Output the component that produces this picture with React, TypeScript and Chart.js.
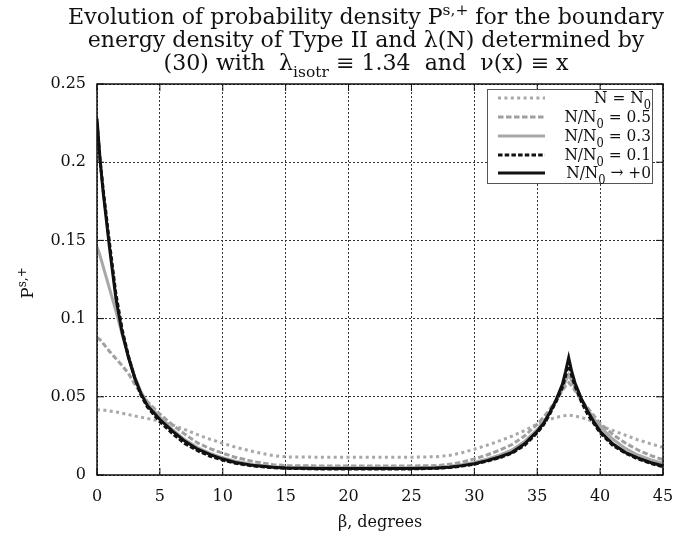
import React, { useEffect, useRef } from "react";
import { Chart, registerables } from "chart.js";
Chart.register(...registerables);

// ---------- data ----------
const betaDeg = [0, 0.25, 0.5, 1, 1.5, 2, 2.5, 3, 3.5, 4, 5, 6, 7, 8, 9, 10, 11, 12.5, 14, 15, 17.5, 20, 22.5, 25, 27, 28, 29, 30, 31, 32, 33, 34, 35, 35.5, 36, 36.5, 37, 37.25, 37.5, 37.75, 38, 38.5, 39, 39.5, 40, 41, 42, 43, 44, 45];

const pN0 = [0.0417, 0.0416, 0.0415, 0.041, 0.0403, 0.0395, 0.0386, 0.0377, 0.0369, 0.0361, 0.0345, 0.032, 0.029, 0.0258, 0.0228, 0.0203, 0.0178, 0.0148, 0.0124, 0.0116, 0.0114, 0.0114, 0.0114, 0.0114, 0.0117, 0.0125, 0.0142, 0.0165, 0.019, 0.0218, 0.0248, 0.0285, 0.0325, 0.034, 0.0356, 0.0368, 0.0377, 0.038, 0.0382, 0.038, 0.0377, 0.0368, 0.0356, 0.0338, 0.0315, 0.0285, 0.0255, 0.0225, 0.02, 0.0177];

const pHalf = [0.088, 0.0865, 0.084, 0.079, 0.0745, 0.07, 0.065, 0.058, 0.052, 0.047, 0.039, 0.032, 0.026, 0.0205, 0.0168, 0.0139, 0.0113, 0.0085, 0.0066, 0.006, 0.0058, 0.0058, 0.0058, 0.0058, 0.006, 0.0068, 0.0082, 0.0103, 0.0128, 0.0158, 0.0195, 0.025, 0.0325, 0.037, 0.042, 0.048, 0.054, 0.057, 0.059, 0.057, 0.054, 0.048, 0.043, 0.038, 0.033, 0.026, 0.0205, 0.016, 0.0125, 0.0098];

const pThird = [0.146, 0.14, 0.133, 0.119, 0.105, 0.09, 0.076, 0.063, 0.053, 0.046, 0.037, 0.029, 0.0225, 0.0175, 0.0138, 0.011, 0.0088, 0.0066, 0.0053, 0.0049, 0.0046, 0.0046, 0.0046, 0.0046, 0.005, 0.0056, 0.0066, 0.008, 0.0101, 0.0127, 0.016, 0.0215, 0.029, 0.034, 0.04, 0.047, 0.055, 0.06, 0.064, 0.06, 0.056, 0.048, 0.042, 0.036, 0.031, 0.023, 0.017, 0.0128, 0.0098, 0.0075];

const pTenth = [0.225, 0.201, 0.182, 0.148, 0.116, 0.093, 0.076, 0.062, 0.051, 0.0435, 0.034, 0.0265, 0.02, 0.0155, 0.012, 0.0095, 0.0075, 0.0057, 0.0047, 0.0043, 0.0039, 0.0039, 0.0039, 0.0039, 0.0043, 0.0048, 0.0057, 0.0069, 0.0088, 0.011, 0.014, 0.019, 0.027, 0.032, 0.039, 0.047, 0.056, 0.063, 0.072, 0.063, 0.057, 0.047, 0.039, 0.033, 0.027, 0.019, 0.014, 0.0103, 0.0075, 0.0053];

const pZero = [0.228, 0.201, 0.18, 0.145, 0.113, 0.091, 0.075, 0.062, 0.052, 0.0445, 0.0355, 0.028, 0.0215, 0.0165, 0.013, 0.0102, 0.008, 0.006, 0.0049, 0.0045, 0.0041, 0.0041, 0.0041, 0.0041, 0.0045, 0.005, 0.006, 0.0072, 0.0092, 0.0115, 0.0145, 0.02, 0.028, 0.033, 0.04, 0.048, 0.058, 0.066, 0.075, 0.066, 0.059, 0.049, 0.041, 0.034, 0.028, 0.02, 0.0145, 0.011, 0.008, 0.0058];

const xTickValues = [0, 5, 10, 15, 20, 25, 30, 35, 40, 45];
const xTickLabels = ["0", "5", "10", "15", "20", "25", "30", "35", "40", "45"];
const yTickValues = [0, 0.05, 0.1, 0.15, 0.2, 0.25];
const yTickLabels = ["0", "0.05", "0.1", "0.15", "0.2", "0.25"];

type Seg = [string, "n" | "sup" | "sub"];
const titleLines: Seg[][] = [
  [["Evolution of probability density P", "n"], ["s,+", "sup"], [" for the boundary", "n"]],
  [["energy density of Type II and λ(N) determined by", "n"]],
  [["(30) with  λ", "n"], ["isotr", "sub"], [" ≡ 1.34  and  ν(x) ≡ x", "n"]],
];
const legendLabels: Seg[][] = [
  [["N = N", "n"], ["0", "sub"]],
  [["N/N", "n"], ["0", "sub"], [" = 0.5", "n"]],
  [["N/N", "n"], ["0", "sub"], [" = 0.3", "n"]],
  [["N/N", "n"], ["0", "sub"], [" = 0.1", "n"]],
  [["N/N", "n"], ["0", "sub"], [" → +0", "n"]],
];
const yTitle: Seg[] = [["P", "n"], ["s,+", "sup"]];
const xTitle: Seg[] = [["β, degrees", "n"]];

const seriesValues = [pN0, pHalf, pThird, pTenth, pZero];
const seriesColors = ["#a8a8a8", "#a0a0a0", "#a8a8a8", "#111111", "#111111"];
const seriesDash: number[][] = [[3, 3.4], [5.5, 2.5], [], [4.5, 2.2], []];
const seriesOrder = [5, 4, 3, 2, 1];

const FONT = '"DejaVu Serif"';

function segFont(size: number, m: string) {
  return `${m === "n" ? size : Math.round(size * 0.72)}px ${FONT}`;
}
function richWidth(ctx: CanvasRenderingContext2D, segs: Seg[], size: number) {
  let w = 0;
  for (const [t, m] of segs) {
    ctx.font = segFont(size, m);
    w += ctx.measureText(t).width;
  }
  return w;
}
function drawRich(ctx: CanvasRenderingContext2D, segs: Seg[], x: number, y: number, size: number, align: string, sx = 1) {
  const w = richWidth(ctx, segs, size) * sx;
  let cx = align === "center" ? x - w / 2 : align === "right" ? x - w : x;
  ctx.save();
  ctx.textAlign = "left";
  ctx.textBaseline = "alphabetic";
  ctx.fillStyle = "#111";
  for (const [t, m] of segs) {
    ctx.font = segFont(size, m);
    const dy = m === "sup" ? -size * 0.42 : m === "sub" ? size * 0.32 : 0;
    ctx.save();
    ctx.translate(cx, y + dy);
    ctx.scale(sx, 1);
    ctx.fillText(t, 0, 0);
    ctx.restore();
    cx += ctx.measureText(t).width * sx;
  }
  ctx.restore();
}

const decorPlugin = {
  id: "decor",
  afterDraw(chart: any) {
    const ctx: CanvasRenderingContext2D = chart.ctx;
    const a = chart.chartArea;
    const xs = chart.scales.x;
    const ys = chart.scales.y;
    // frame
    ctx.save();
    ctx.strokeStyle = "#111";
    ctx.lineWidth = 1.5;
    ctx.strokeRect(a.left, a.top, a.right - a.left, a.bottom - a.top);
    ctx.lineWidth = 1;
    const tl = 7;
    ctx.beginPath();
    for (const v of xTickValues) {
      const px = xs.getPixelForValue(v);
      ctx.moveTo(px, a.bottom); ctx.lineTo(px, a.bottom - tl);
      ctx.moveTo(px, a.top); ctx.lineTo(px, a.top + tl);
    }
    for (const v of yTickValues) {
      const py = ys.getPixelForValue(v);
      ctx.moveTo(a.left, py); ctx.lineTo(a.left + tl, py);
      ctx.moveTo(a.right, py); ctx.lineTo(a.right - tl, py);
    }
    ctx.stroke();
    ctx.restore();

    // title
    const tsize = 21.5;
    const sx = 596 / richWidth(ctx, titleLines[0], tsize);
    const baselines = [24, 47, 70];
    titleLines.forEach((ln, i) => drawRich(ctx, ln, 366, baselines[i], tsize, "center", sx));

    // axis titles
    drawRich(ctx, xTitle, (a.left + a.right) / 2, 527, 16, "center");
    ctx.save();
    ctx.translate(33, 283);
    ctx.rotate(-Math.PI / 2);
    drawRich(ctx, yTitle, 0, 0, 17, "center");
    ctx.restore();

    // legend
    const lx0 = 487, lx1 = 652, ly0 = 89, ly1 = 183;
    ctx.save();
    ctx.fillStyle = "#fff";
    ctx.fillRect(lx0, ly0, lx1 - lx0, ly1 - ly0);
    ctx.strokeStyle = "#555";
    ctx.lineWidth = 1;
    ctx.strokeRect(lx0 + 0.5, ly0 + 0.5, lx1 - lx0, ly1 - ly0);
    const rowY = [98, 117, 136, 155, 173];
    legendLabels.forEach((lab, i) => {
      ctx.save();
      ctx.strokeStyle = seriesColors[i];
      ctx.lineWidth = 3;
      ctx.setLineDash(seriesDash[i]);
      ctx.beginPath();
      ctx.moveTo(498, rowY[i]);
      ctx.lineTo(545, rowY[i]);
      ctx.stroke();
      ctx.restore();
      drawRich(ctx, lab, 651, rowY[i] + 5, 17.5, "right", 0.88);
    });
    ctx.restore();
  },
};

export default function App() {
  const ref = useRef<HTMLCanvasElement | null>(null);
  useEffect(() => {
    const canvas = ref.current!;
    const datasets = seriesValues.map((vals, i) => ({
      label: "s" + i,
      data: betaDeg.map((b, j) => ({ x: b, y: vals[j] })),
      borderColor: seriesColors[i],
      borderWidth: 3,
      borderDash: seriesDash[i],
      pointRadius: 0,
      tension: 0,
      fill: false,
      order: seriesOrder[i],
    }));
    const chart = new Chart(canvas, {
      type: "line",
      data: { datasets },
      options: {
        animation: false,
        responsive: false,
        devicePixelRatio: 1,
        layout: { padding: { left: 0, top: 84, right: 29, bottom: 0 } },
        plugins: { legend: { display: false }, tooltip: { enabled: false }, title: { display: false } },
        scales: {
          x: {
            type: "linear",
            min: 0,
            max: 45,
            afterBuildTicks: (s: any) => { s.ticks = xTickValues.map((v) => ({ value: v })); },
            afterFit: (s: any) => { s.height = 70; },
            ticks: {
              callback: (_v: any, i: number) => xTickLabels[i],
              color: "#111",
              font: { family: "DejaVu Serif", size: 16 },
              padding: 12,
              maxRotation: 0,
            },
            grid: { color: "#333", lineWidth: 1, drawTicks: false },
            border: { display: false, dash: [2, 2] },
          },
          y: {
            type: "linear",
            min: 0,
            max: 0.25,
            afterBuildTicks: (s: any) => { s.ticks = yTickValues.map((v) => ({ value: v })); },
            afterFit: (s: any) => { s.width = 97; },
            ticks: {
              callback: (_v: any, i: number) => yTickLabels[i],
              color: "#111",
              font: { family: "DejaVu Serif", size: 16 },
              padding: 11,
            },
            grid: { color: "#333", lineWidth: 1, drawTicks: false },
            border: { display: false, dash: [2, 2] },
          },
        },
      },
      plugins: [decorPlugin],
    } as any);
    return () => chart.destroy();
  }, []);
  return (
    <div style={{ position: "fixed", left: 0, top: 0, width: 692, height: 545, background: "#fff" }}>
      <canvas ref={ref} width={692} height={545} style={{ display: "block", width: 692, height: 545 }} />
    </div>
  );
}
